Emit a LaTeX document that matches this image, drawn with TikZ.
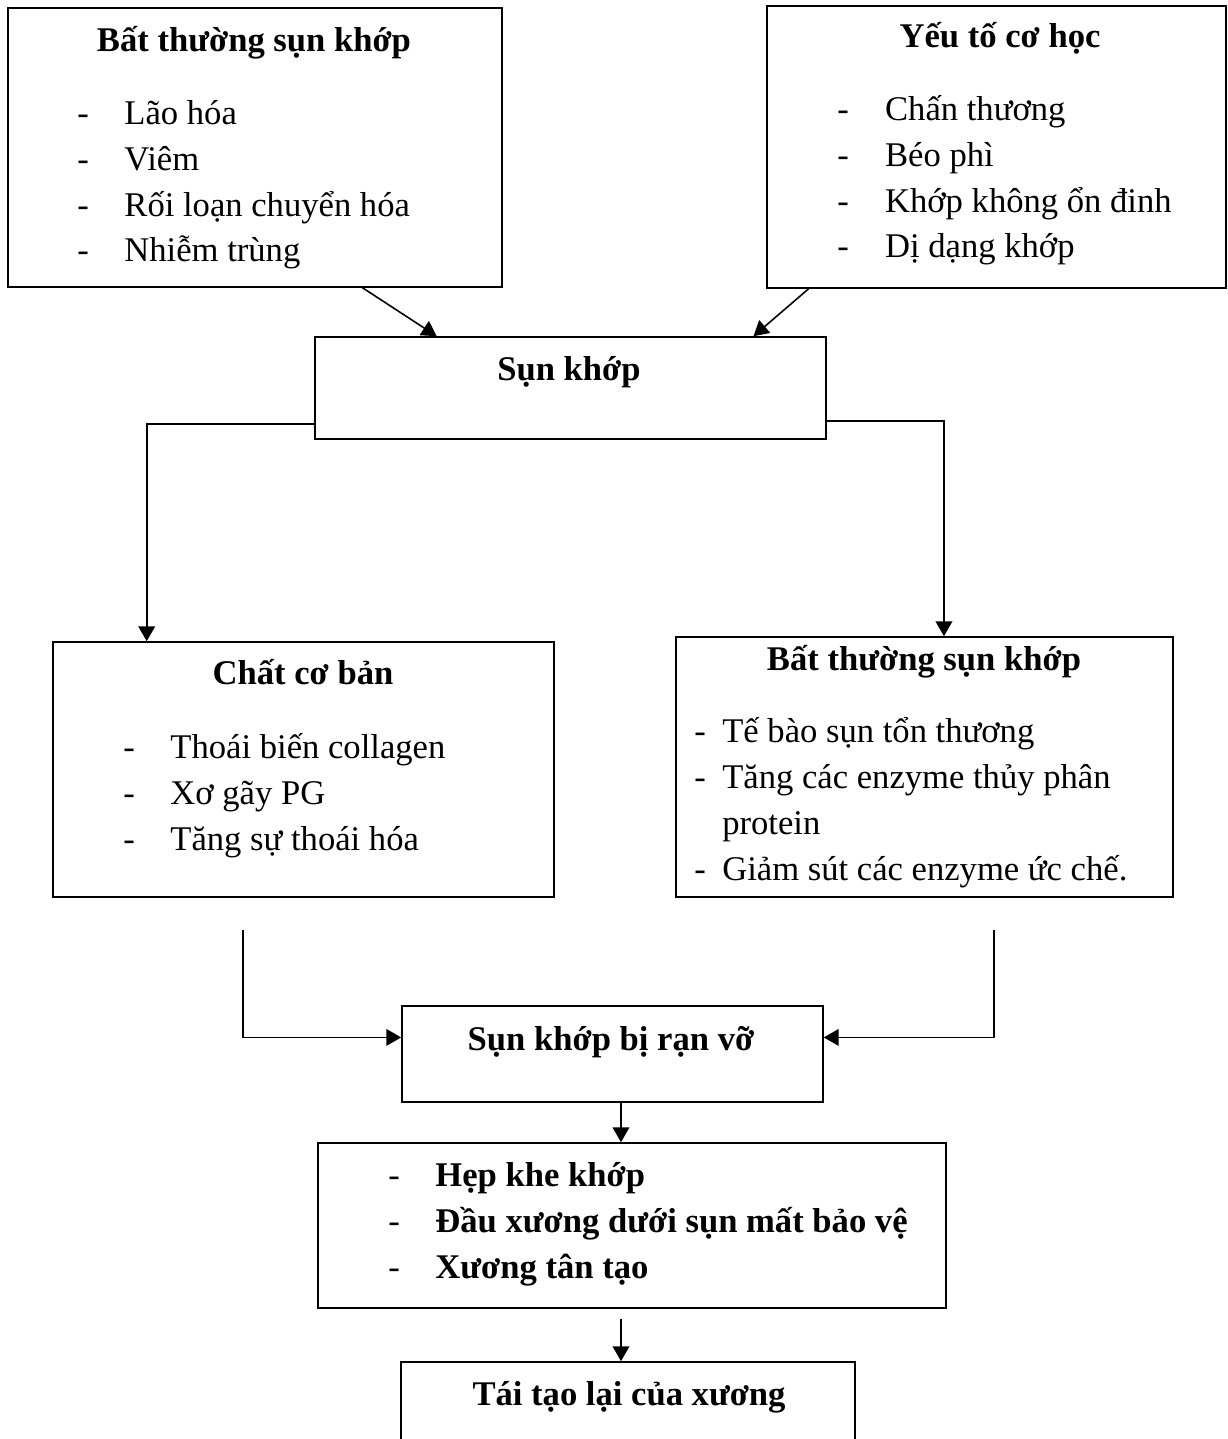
\documentclass[tikz,border=0pt]{standalone}
\usepackage{fontspec}
\setmainfont{Liberation Serif}
\usetikzlibrary{arrows.meta, calc}
\newcommand{\itm}[2][26.8pt]{\makebox[#1][l]{-}#2}

\begin{document}
\begin{tikzpicture}[x=0.02cm, y=-0.02cm,
    % Define the styles for boxes, texts and arrows
    box/.style={draw, line width=0.9pt, inner sep=0pt},
    txt/.style={inner sep=0pt, font=\fontsize{19.7}{26}\selectfont},
    ttl/.style={txt, anchor=base, font=\fontsize{19.7}{26}\selectfont\bfseries},
    lst/.style={txt, anchor=base west, align=left},
    arr/.style={line width=0.9pt, -{Triangle[width=9.5pt, length=8.5pt]}}
]
\useasboundingbox (0,0) rectangle (1227,1439);
\clip (0,0) rectangle (1227,1439);

% Define the boxes
\node[box, minimum width=9.88cm, minimum height=5.58cm] (A) at (255,147.5) {};
\node[box, minimum width=9.18cm, minimum height=5.64cm] (B) at (996.5,147) {};
\node[box, minimum width=10.22cm, minimum height=2.04cm] (S) at (570.5,388) {};
\node[box, minimum width=10.02cm, minimum height=5.10cm] (C) at (303.5,769.5) {};
\node[box, minimum width=9.94cm, minimum height=5.20cm] (D) at (924.5,767) {};
\node[box, minimum width=8.42cm, minimum height=1.92cm] (E) at (612.5,1054) {};
\node[box, minimum width=12.56cm, minimum height=3.30cm] (F) at (632,1225.5) {};
\node[box, minimum width=9.08cm, minimum height=1.96cm] (G) at (628,1411) {};

% Add the titles
\node[ttl] (tA) at (254,52) {Bất thường sụn khớp};
\node[ttl] (tB) at (1000,48) {Yếu tố cơ học};
\node[ttl] (tS) at (569,380) {Sụn khớp};
\node[ttl] (tC) at (303,684) {Chất cơ bản};
\node[ttl] (tD) at (924,670) {Bất thường sụn khớp};
\node[ttl] (tE) at (611,1050) {Sụn khớp bị rạn vỡ};
\node[ttl] (tG) at (629,1405) {Tái tạo lại của xương};

% Add the lists (placed at the baseline of their last line)
\node[lst] (lA) at (77,262) {\itm{Lão hóa}\\ \itm{Viêm}\\ \itm{Rối loạn chuyển hóa}\\ \itm{Nhiễm trùng}};
\node[lst] (lB) at (837,258) {\itm[27.2pt]{Chấn thương}\\ \itm[27.2pt]{Béo phì}\\ \itm[27.2pt]{Khớp không ổn đinh}\\ \itm[27.2pt]{Dị dạng khớp}};
\node[lst] (lC) at (123,850) {\itm{Thoái biến collagen}\\ \itm{Xơ gãy PG}\\ \itm{Tăng sự thoái hóa}};
\node[lst] (lD) at (694,880) {\itm[15.9pt]{Tế bào sụn tổn thương}\\ \itm[15.9pt]{Tăng các enzyme thủy phân}\\ \hspace*{15.9pt}protein\\ \itm[15.9pt]{Giảm sút các enzyme ức chế.}};
\node[lst] (lF) at (388,1278) {\itm{\textbf{Hẹp khe khớp}}\\ \itm{\textbf{Đầu xương dưới sụn mất bảo vệ}}\\ \itm{\textbf{Xương tân tạo}}};

% Draw the arrows into the cartilage box
\draw[arr] ($(A.south west)!0.717!(A.south east)$) -- ($(S.north west)!0.239!(S.north east)$);
\draw[arr] ($(B.south west)!0.092!(B.south east)$) -- ($(S.north west)!0.857!(S.north east)$);

% Draw the two branches
\draw[arr] ($(S.south west)!0.15!(S.north west)$) -| ($(C.north west)!0.188!(C.north east)$);
\draw[arr] ($(S.south east)!0.18!(S.north east)$) -| ($(D.north west)!0.539!(D.north east)$);

% Define the free ends below the two boxes
\coordinate (CE) at (243,930);
\coordinate (DE) at (994,930);
\draw[arr] (CE) |- ($(E.north west)!0.33!(E.south west)$);
\draw[arr] (DE) |- ($(E.north east)!0.33!(E.south east)$);

% Draw the arrows down
\coordinate (EF) at ($(E.south west)!0.52!(E.south east)$);
\draw[arr] (EF) -- (EF |- F.north);
\coordinate (FG) at (621,1319);
\draw[arr] (FG) -- (FG |- G.north);

\end{tikzpicture}
\end{document}
